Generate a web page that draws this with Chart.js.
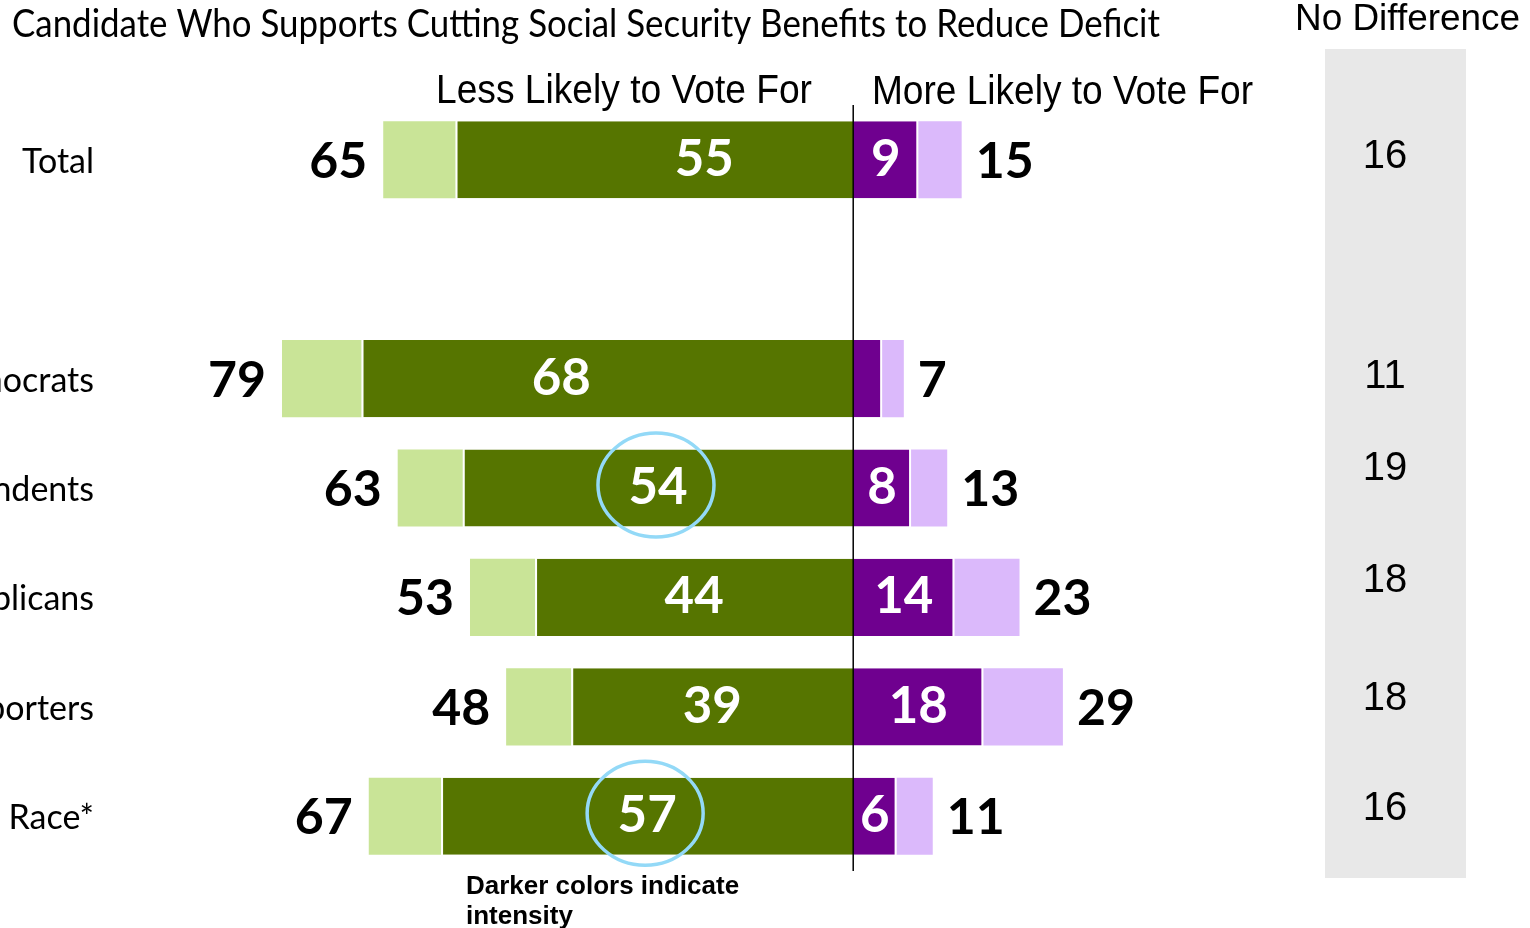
<!DOCTYPE html>
<html>
<head>
<meta charset="utf-8">
<script src="https://cdn.jsdelivr.net/npm/chart.js@4.4.1/dist/chart.umd.min.js"></script>
<style>
  html, body { margin: 0; padding: 0; background: #ffffff; overflow: hidden; }
  #wrap { width: 1530px; height: 928px; position: relative; }
</style>
</head>
<body>
<div id="wrap"><canvas id="chart" width="1530" height="928"></canvas></div>
<script>
// Groups (the blank entry keeps a gap under "Total")
const categories = ['Total', '', 'Democrats', 'Independents', 'Republicans', 'Supporters', 'Race*'];
// Less likely to vote for: all, and the "much less likely" part
const lessLikelyAll    = [65, null, 79, 63, 53, 48, 67];
const lessLikelyStrong = [55, null, 68, 54, 44, 39, 57];
// More likely to vote for: "much more likely" part, and all
const moreLikelyStrong = [9, null, 4, 8, 14, 18, 6];
const moreLikelyAll    = [15, null, 7, 13, 23, 29, 11];
// No difference column
const noDifference     = [16, null, 11, 19, 18, 18, 16];
// Groups whose strong figure is ringed
const circledGroups = ['Independents', 'Race*'];

const titleText = 'Candidate Who Supports Cutting Social Security Benefits to Reduce Deficit';
const lessHeader = 'Less Likely to Vote For';
const moreHeader = 'More Likely to Vote For';
const noDiffHeader = 'No Difference';
const noteLines = ['Darker colors indicate', 'intensity'];

const COLORS = {
  lessStrong: '#567500',
  lessSoft: '#c9e497',
  moreStrong: '#6f008f',
  moreSoft: '#dbb9fb',
  ring: '#93d9f7',
  panel: '#e8e8e8'
};

// hand-placed text nudges (pixels) for a few labels
const LABEL_NUDGE = {
  strongLessX: { 'Total': 50, 'Democrats': -46 },
  noDiffY: { 'Total': 6, 'Democrats': 7, 'Independents': -10, 'Republicans': -7, 'Supporters': 1, 'Race*': 2 }
};

const neg = arr => arr.map(v => v == null ? null : -v);
const lessSoft = lessLikelyAll.map((v, i) => v == null ? null : v - lessLikelyStrong[i]);
const moreSoft = moreLikelyAll.map((v, i) => v == null ? null : v - moreLikelyStrong[i]);

// Draw text stretched/compressed horizontally to a given width
function fitText(ctx, text, x, y, font, width, align) {
  ctx.save();
  ctx.font = font;
  const w = ctx.measureText(text).width;
  const s = width / w;
  ctx.translate(x, y);
  ctx.scale(s, 1);
  ctx.textAlign = align;
  ctx.textBaseline = 'alphabetic';
  ctx.fillText(text, 0, 0);
  ctx.restore();
}

const decorations = {
  id: 'decorations',
  beforeDatasetsDraw(chart) {
    const ctx = chart.ctx;
    const ca = chart.chartArea;
    // grey panel behind the "No Difference" figures
    ctx.save();
    ctx.fillStyle = COLORS.panel;
    ctx.fillRect(1325, 49, 141, ca.bottom + 7 - 49);
    ctx.restore();
  },
  afterDatasetsDraw(chart) {
    const ctx = chart.ctx;
    const ca = chart.chartArea;
    const xs = chart.scales.x;
    const ys = chart.scales.y;
    const x0 = xs.getPixelForValue(0);

    // zero line
    ctx.save();
    ctx.strokeStyle = '#000';
    ctx.lineWidth = 1.5;
    ctx.beginPath();
    ctx.moveTo(x0, ca.top);
    ctx.lineTo(x0, ca.bottom);
    ctx.stroke();
    ctx.restore();

    ctx.save();
    ctx.fillStyle = '#000';
    // headers
    fitText(ctx, titleText, 12, 37, '39px Lato', 1148, 'left');
    fitText(ctx, lessHeader, 624, 103, '40px "Liberation Sans"', 376, 'center');
    fitText(ctx, moreHeader, 872, 104, '40px "Liberation Sans"', 381, 'left');
    fitText(ctx, noDiffHeader, 1295, 30, '37px "Liberation Sans"', 225, 'left');

    // footnote
    ctx.font = 'bold 26px "Liberation Sans"';
    ctx.textAlign = 'left';
    ctx.textBaseline = 'alphabetic';
    ctx.fillText(noteLines[0], 466, 894);
    ctx.fillText(noteLines[1], 466, 924);

    categories.forEach((cat, i) => {
      if (lessLikelyAll[i] == null) return;
      const y = ys.getPixelForValue(i);

      // group name
      ctx.fillStyle = '#000';
      ctx.font = '34px Lato';
      ctx.textAlign = 'right';
      ctx.textBaseline = 'alphabetic';
      ctx.fillText(cat, 94, y + 13);

      // totals at the bar ends
      ctx.font = 'bold 50px Lato';
      const xLess = xs.getPixelForValue(-lessLikelyAll[i]);
      ctx.textAlign = 'right';
      ctx.fillText(String(lessLikelyAll[i]), xLess - 16, y + 18);
      const xMore = xs.getPixelForValue(moreLikelyAll[i]);
      ctx.textAlign = 'left';
      ctx.fillText(String(moreLikelyAll[i]), xMore + 14, y + 18);

      // strong figures inside the dark segments
      ctx.fillStyle = '#fff';
      ctx.font = 'bold 51px Lato';
      ctx.textAlign = 'center';
      const xLS = xs.getPixelForValue(-lessLikelyStrong[i]);
      const cxL = (xLS + x0) / 2 + (LABEL_NUDGE.strongLessX[cat] || 0);
      ctx.fillText(String(lessLikelyStrong[i]), cxL, y + 16);
      const xMS = xs.getPixelForValue(moreLikelyStrong[i]);
      if (xMS - x0 >= 35) {
        ctx.fillText(String(moreLikelyStrong[i]), (xMS + x0) / 2, y + 16);
      }

      // ring around highlighted figure
      if (circledGroups.includes(cat)) {
        ctx.strokeStyle = COLORS.ring;
        ctx.lineWidth = 3.5;
        ctx.beginPath();
        ctx.ellipse(cxL - 2, y - 3, 58, 52, 0, 0, Math.PI * 2);
        ctx.stroke();
      }

      // no-difference figure
      if (noDifference[i] != null) {
        ctx.fillStyle = '#000';
        ctx.font = '40px "Liberation Sans"';
        ctx.textAlign = 'center';
        ctx.fillText(String(noDifference[i]), 1385, y + 2 + (LABEL_NUDGE.noDiffY[cat] || 0));
      }
    });
    ctx.restore();
  }
};

// white separator only where the dark segment meets the light one
function barStyle(sepSide) {
  const bw = { top: 0, bottom: 0, left: 0, right: 0 };
  if (sepSide) bw[sepSide] = 2;
  return {
    borderColor: '#ffffff',
    borderWidth: bw,
    borderSkipped: false,
    categoryPercentage: 1,
    barPercentage: 0.705
  };
}

new Chart(document.getElementById('chart'), {
  type: 'bar',
  data: {
    labels: categories,
    datasets: [
      Object.assign({ label: 'Much less likely', data: neg(lessLikelyStrong), backgroundColor: COLORS.lessStrong }, barStyle('left')),
      Object.assign({ label: 'Somewhat less likely', data: neg(lessSoft), backgroundColor: COLORS.lessSoft }, barStyle(null)),
      Object.assign({ label: 'Much more likely', data: moreLikelyStrong, backgroundColor: COLORS.moreStrong }, barStyle('right')),
      Object.assign({ label: 'Somewhat more likely', data: moreSoft, backgroundColor: COLORS.moreSoft }, barStyle(null))
    ]
  },
  options: {
    indexAxis: 'y',
    responsive: false,
    animation: false,
    devicePixelRatio: 1,
    layout: { padding: { top: 105, bottom: 57, left: 0, right: 0 } },
    scales: {
      x: { type: 'linear', stacked: true, min: -118, max: 93.6, display: false },
      y: { type: 'category', stacked: true, display: false }
    },
    plugins: {
      legend: { display: false },
      tooltip: { enabled: false }
    }
  },
  plugins: [decorations]
});
</script>
</body>
</html>
